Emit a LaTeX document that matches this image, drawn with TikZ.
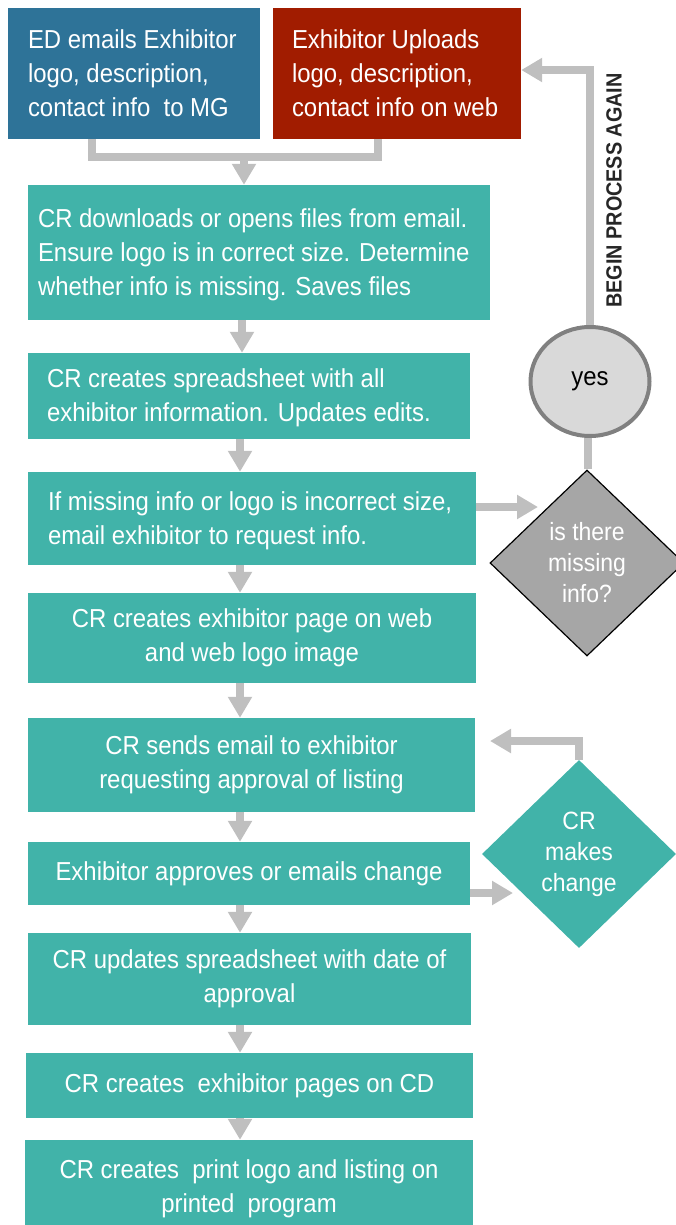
\documentclass[tikz,border=0pt]{standalone}
\usepackage{fontspec}
\setmainfont{Liberation Sans}[FakeStretch=0.92]
\newfontfamily\lblfont{Liberation Sans}[FakeStretch=0.9]
\usetikzlibrary{arrows.meta,shapes.geometric,calc}
\definecolor{edblue}{HTML}{2E7398}
\definecolor{exred}{HTML}{A11C00}
\definecolor{tealbox}{HTML}{41B3A9}
\definecolor{conngrey}{HTML}{BFBFBF}
\definecolor{yesfill}{HTML}{D9D9D9}
\definecolor{yesline}{HTML}{808080}
\definecolor{qfill}{HTML}{A6A6A6}
\definecolor{lbltext}{HTML}{262626}
\pgfdeclarelayer{bg}
\pgfsetlayers{bg,main}
\tikzset{
  boxtxt/.style={font=\fontsize{26}{34}\selectfont, text=white},
  flowbox/.style={rectangle, fill=tealbox, inner sep=0pt, align=center, boxtxt},
  lefttxt/.style={anchor=west, align=left, inner sep=0pt, boxtxt},
  conn/.style={draw=conngrey, line width=8pt, line join=miter},
  arr/.style={conn, -{Triangle[width=23pt,length=21pt]}},
  decision/.style={diamond, inner sep=0pt, align=center, text=white,
    font=\fontsize{25}{31}\selectfont},
}
\begin{document}
\begin{tikzpicture}[x=1pt,y=-1pt]
\useasboundingbox (0,0) rectangle (675,1225);

% top boxes
\node[rectangle, fill=edblue, minimum width=252pt, minimum height=131pt, inner sep=0pt] (ed) at (134,73.5) {};
\node[lefttxt] (edt) at ([xshift=20pt]ed.west) {ED emails Exhibitor\\logo, description,\\contact info\ \ to MG};
\node[rectangle, fill=exred, minimum width=248pt, minimum height=131pt, inner sep=0pt] (up) at (397,73.5) {};
\node[lefttxt] (upt) at ([xshift=19pt]up.west) {Exhibitor Uploads\\logo, description,\\contact info on web};

% process boxes
\node[flowbox, minimum width=462pt, minimum height=135pt] (b3) at (259,252.5) {};
\node[lefttxt] (b3t) at ([xshift=10pt,yshift=-2pt]b3.west) {CR downloads or opens files from email.\\Ensure logo is in correct size. Determine\\whether info is missing. Saves files};
\node[flowbox, minimum width=442pt, minimum height=86pt] (b4) at (249,396) {};
\node[lefttxt] (b4t) at ([xshift=19pt,yshift=-2pt]b4.west) {CR creates spreadsheet with all\\exhibitor information. Updates edits.};
\node[flowbox, minimum width=448pt, minimum height=93pt] (b5) at (252,518.5) {};
\node[lefttxt] (b5t) at ([xshift=20pt,yshift=-2pt]b5.west) {If missing info or logo is incorrect size,\\email exhibitor to request info.};
\node[flowbox, minimum width=448pt, minimum height=90pt] (b6) at (252,638) {CR creates exhibitor page on web\\and web logo image};
\node[flowbox, minimum width=447pt, minimum height=94pt] (b7) at (251.5,765) {CR sends email to exhibitor\\requesting approval of listing};
\node[flowbox, minimum width=442pt, minimum height=63pt] (b8) at (249,873.5) {Exhibitor approves or emails change};
\node[flowbox, minimum width=443pt, minimum height=92pt] (b9) at (249.5,979) {CR updates spreadsheet with date of\\approval};
\node[flowbox, minimum width=447pt, minimum height=65pt] (b10) at (249.5,1085.5) {CR creates\ \ exhibitor pages on CD};
\node[flowbox, minimum width=448pt, minimum height=98pt] (b11) at (249,1189) {CR creates\ \ print logo and listing on\\printed\ \ program};

% decisions
\node[decision, fill=qfill, draw=black, line width=1.2pt, minimum width=194pt, minimum height=186pt] (q1) at (587,563) {is there\\missing\\info?};
\node[ellipse, fill=yesfill, draw=yesline, line width=4pt, minimum width=119pt, minimum height=109pt, inner sep=0pt,
  font=\fontsize{26}{30}\selectfont, text=black] (yes) at (590,381.5) {yes};
\node[decision, fill=tealbox, minimum width=194pt, minimum height=188pt] (q2) at (579,854) {CR\\makes\\change};

\node[rotate=90, font=\lblfont\bfseries\fontsize{22}{26}\selectfont, text=lbltext, inner sep=0pt] (again) at (614,190.5) {BEGIN PROCESS AGAIN};

% helper coordinates
\coordinate (jl) at (92,157.5);
\coordinate (jr) at (378,157.5);
\coordinate (jm) at (244,157.5);
\coordinate (ret1) at (590,70);
\coordinate (vq) at (588,0);
\coordinate (a5e) at (538,507);
\coordinate (a8e) at (513,893);
\coordinate (r7) at (490,741);
\coordinate (c1) at (242,0);
\coordinate (c2) at (240,0);

\begin{pgfonlayer}{bg}
\draw[conn] (ed.south -| jl) -- (jl) -- (jr) -- (up.south -| jr);
\draw[conn] (q1.north -| vq) -- (yes.south -| vq);
\end{pgfonlayer}
\draw[arr] (jm) -- (b3.north -| jm);
\draw[arr] (b3.south -| c1) -- (b4.north -| c1);
\draw[arr] (b4.south -| c2) -- (b5.north -| c2);
\draw[arr] (b5.south -| c2) -- (b6.north -| c2);
\draw[arr] (b6.south -| c2) -- (b7.north -| c2);
\draw[arr] (b7.south -| c2) -- (b8.north -| c2);
\draw[arr] (b8.south -| c2) -- (b9.north -| c2);
\draw[arr] (b9.south -| c2) -- (b10.north -| c2);
\draw[arr] (b10.south -| c2) -- (b11.north -| c2);
\draw[arr] (b5.east |- a5e) -- (a5e);
\draw[arr] (b8.east |- a8e) -- (a8e);
\draw[arr] (yes.north) -- (ret1) -- (up.east |- ret1);
\draw[arr] (q2.north) -- (q2.north |- r7) -- (r7);
\end{tikzpicture}
\end{document}
